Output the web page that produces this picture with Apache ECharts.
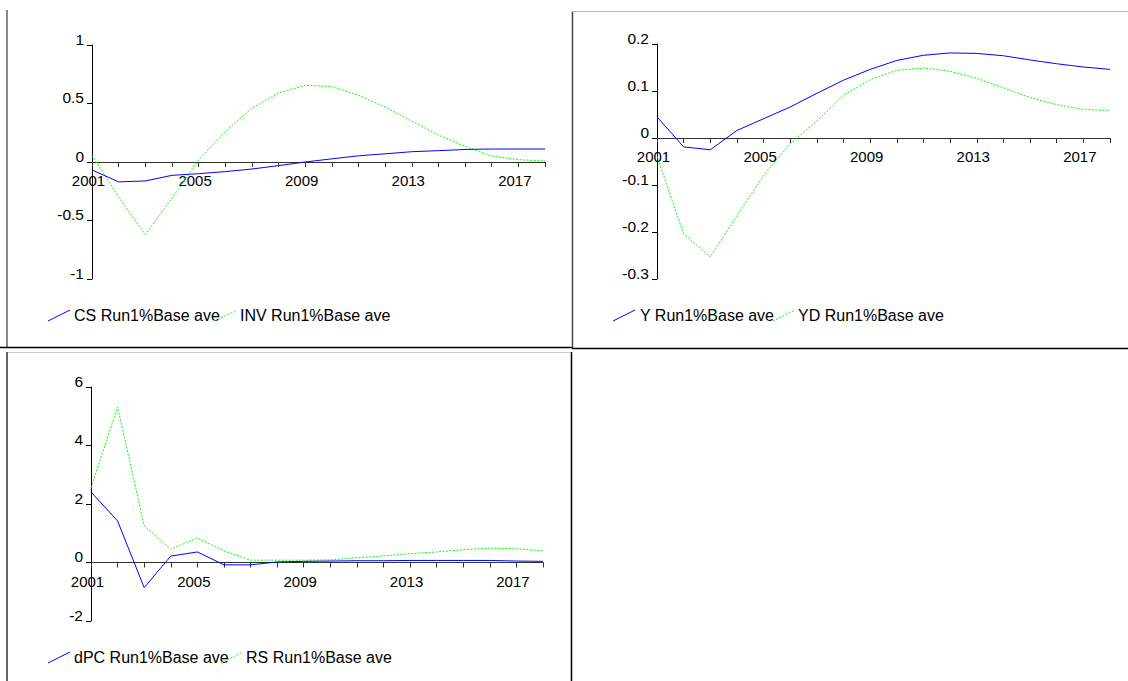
<!DOCTYPE html>
<html>
<head>
<meta charset="utf-8">
<script src="https://cdn.jsdelivr.net/npm/echarts@6/dist/echarts.min.js"></script>
<style>
html,body{margin:0;padding:0;background:#fff;}
#c{width:1128px;height:681px;}
</style>
</head>
<body>
<div id="c"></div>
<script>
// ---- data ----
const years = ['2001','2002','2003','2004','2005','2006','2007','2008','2009','2010','2011','2012','2013','2014','2015','2016','2017','2018'];
const labelYears = ['2001','2005','2009','2013','2017'];

const csValues  = [-0.068,-0.17,-0.162,-0.114,-0.10,-0.082,-0.06,-0.031,0.0,0.027,0.053,0.07,0.088,0.097,0.107,0.111,0.111,0.111];
const invValues = [0.057,-0.30,-0.62,-0.31,0.017,0.26,0.46,0.59,0.655,0.645,0.57,0.47,0.35,0.23,0.134,0.05,0.02,0.008];

const yValues  = [0.045,-0.019,-0.025,0.016,0.041,0.066,0.095,0.123,0.146,0.165,0.176,0.181,0.18,0.175,0.166,0.158,0.151,0.146];
const ydValues = [-0.039,-0.204,-0.253,-0.165,-0.08,-0.012,0.036,0.091,0.124,0.144,0.149,0.142,0.127,0.107,0.086,0.071,0.061,0.058];

const dpcValues = [2.41,1.42,-0.86,0.22,0.36,-0.08,-0.08,0.02,0.04,0.05,0.06,0.06,0.07,0.07,0.07,0.07,0.05,0.04];
const rsValues  = [2.55,5.32,1.26,0.45,0.84,0.40,0.08,0.08,0.08,0.09,0.16,0.23,0.30,0.36,0.44,0.49,0.47,0.40];

const seriesNames = [
  ['CS Run1%Base ave','INV Run1%Base ave'],
  ['Y Run1%Base ave','YD Run1%Base ave'],
  ['dPC Run1%Base ave','RS Run1%Base ave']
];
const yRanges = [[-1,1,0.5],[-0.3,0.2,0.1],[-2,6,2]];

// ---- styling / layout ----
const FONT = '"Liberation Sans", Arial, sans-serif';
const BLUE = '#0000ff', GREEN = '#00ff00';
const grids = [
  {left:92, top:45, width:453, height:234},
  {left:657, top:44, width:453, height:235},
  {left:91, top:387, width:452, height:234}
];
const panelData = [[csValues,invValues],[yValues,ydValues],[dpcValues,rsValues]];

// pixel distance from grid bottom up to the zero line (x axis sits on zero)
const zeroOffset = grids.map((g,i)=> g.height * (0 - yRanges[i][0]) / (yRanges[i][1]-yRanges[i][0]));

const xAxes = grids.map((g,i)=>({
  type:'category', gridIndex:i, data:years, boundaryGap:false, position:'bottom',
  offset: -zeroOffset[i],
  axisLine:{onZero:false, lineStyle:{color:'#333', width:1}},
  axisTick:{show:true, interval:0, length:5, lineStyle:{color:'#333'}},
  axisLabel:{
    interval:0, margin:11, color:'#000', fontSize:15, fontFamily:FONT,
    padding:[0,7,0,0],
    formatter:(v)=> labelYears.indexOf(v)>=0 ? v : ''
  },
  splitLine:{show:false}
}));
const yAxes = grids.map((g,i)=>({
  type:'value', gridIndex:i, min:yRanges[i][0], max:yRanges[i][1], interval:yRanges[i][2],
  axisLine:{show:true, onZero:false, lineStyle:{color:'#000', width:1}},
  axisTick:{show:true, length:5, lineStyle:{color:'#000'}},
  axisLabel:{margin:8, color:'#000', fontSize:15.5, fontFamily:FONT, verticalAlign:'bottom', lineHeight:12},
  splitLine:{show:false}
}));
const series = [];
panelData.forEach((pair,i)=>{
  series.push({type:'line', name:seriesNames[i][0], xAxisIndex:i, yAxisIndex:i, data:pair[0], symbol:'none',
    lineStyle:{color:BLUE, width:1}, z:3});
  series.push({type:'line', name:seriesNames[i][1], xAxisIndex:i, yAxisIndex:i, data:pair[1], symbol:'none',
    lineStyle:{color:GREEN, width:1, type:[2,1.5]}, z:2});
});

// legends (drawn as graphic elements)
const legendPos = [
  {y:315, items:[{x:48, tx:74},{x:215, tx:240}]},
  {y:315, items:[{x:613, tx:640},{x:773, tx:798}]},
  {y:657, items:[{x:48, tx:74},{x:221, tx:246}]}
];
const graphics = [];
legendPos.forEach((lp,i)=>{
  lp.items.forEach((it,j)=>{
    graphics.push({type:'line', shape:{x1:it.x, y1:lp.y+6, x2:it.x+22, y2:lp.y-5},
      style:{stroke: j===0?BLUE:GREEN, lineWidth:1, lineDash: j===0?null:[2,1.5]}});
    graphics.push({type:'text', x:it.tx, y:lp.y,
      style:{text:seriesNames[i][j], fill:'#000', font:'16px '+FONT, verticalAlign:'middle', align:'left'}});
  });
});
// frames
const frame = (x1,y1,x2,y2,c,w)=>({type:'line', shape:{x1,y1,x2,y2}, style:{stroke:c, lineWidth:w}});
graphics.push(frame(7,10,7,347,'#888',2));
graphics.push(frame(0,347.5,572,347.5,'#000',1.5));
graphics.push(frame(572.5,11,572.5,348,'#444',1.5));
graphics.push(frame(572,11.5,1128,11.5,'#bbb',1));
graphics.push(frame(572,348.5,1128,348.5,'#000',1.5));
graphics.push(frame(7,352.5,570,352.5,'#ccc',1));
graphics.push(frame(7,352,7,681,'#333',1.5));
graphics.push(frame(571.5,352,571.5,681,'#000',1.5));

const chart = echarts.init(document.getElementById('c'), null, {renderer:'svg', width:1128, height:681});
chart.setOption({
  animation:false,
  backgroundColor:'#fff',
  grid: grids.map(g=>Object.assign({containLabel:false}, g)),
  xAxis: xAxes,
  yAxis: yAxes,
  series: series,
  graphic: graphics
});
</script>
</body>
</html>
